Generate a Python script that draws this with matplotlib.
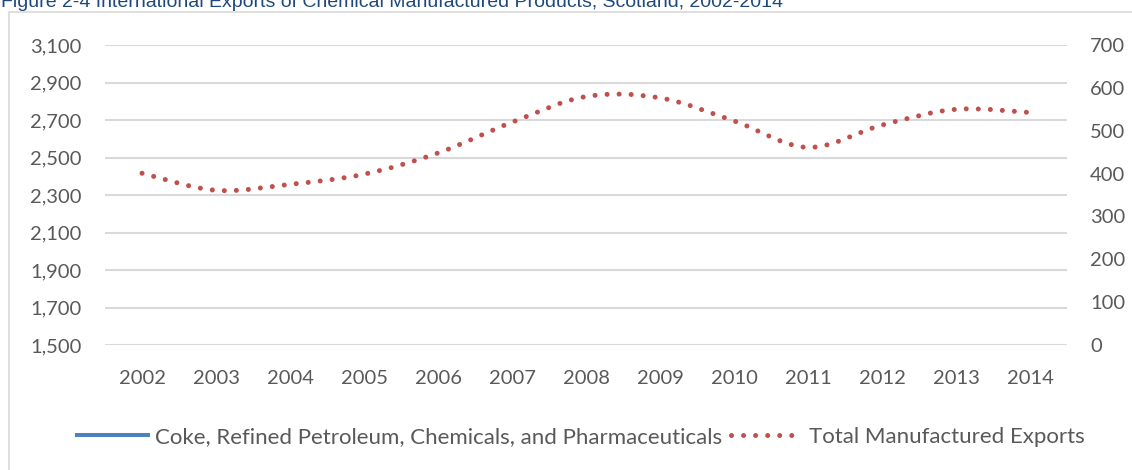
import matplotlib
matplotlib.use('Agg')
import matplotlib.pyplot as plt
from matplotlib.path import Path
from matplotlib.patches import PathPatch, Rectangle
from matplotlib.lines import Line2D
from matplotlib.ticker import FuncFormatter

years = ['2002', '2003', '2004', '2005', '2006', '2007', '2008',
         '2009', '2010', '2011', '2012', '2013', '2014']
total_exports = [2416, 2325, 2357, 2411, 2524, 2688, 2825,
                 2818, 2695, 2554, 2673, 2757, 2740]
# the coke/chemicals series is not drawn in the reference, only its legend key
coke_exports = []

left_ticks = [1500, 1700, 1900, 2100, 2300, 2500, 2700, 2900, 3100]
right_ticks = [0, 100, 200, 300, 400, 500, 600, 700]

red = '#C0504D'
blue = '#4F81BD'
grey_txt = '#595959'
grid_col = '#D9D9D9'

plt.rcParams['font.family'] = ['Lato', 'DejaVu Sans']

fig = plt.figure(figsize=(11.32, 4.70), dpi=100)
ax = fig.add_axes([105/1132, 1-345/470, (1067-105)/1132, 300/470])
ax2 = ax.twinx()

# smoothed line like excel: cubic bezier through the yearly points
xs = list(range(len(years)))
pts = list(zip(xs, total_exports))
verts = [pts[0]]
codes = [Path.MOVETO]
for i in range(len(pts)-1):
    p0 = pts[max(i-1, 0)]
    p1 = pts[i]
    p2 = pts[i+1]
    p3 = pts[min(i+2, len(pts)-1)]
    c1 = (p1[0] + (p2[0]-p0[0])/6, p1[1] + (p2[1]-p0[1])/6)
    c2 = (p2[0] - (p3[0]-p1[0])/6, p2[1] - (p3[1]-p1[1])/6)
    verts += [c1, c2, p2]
    codes += [Path.CURVE4]*3
dots = (0, (0.01, 2.4))
patch = PathPatch(Path(verts, codes), facecolor='none', edgecolor=red,
                  lw=3.6, linestyle=dots, capstyle='round', zorder=3)
ax.add_patch(patch)

ax2.plot(range(len(coke_exports)), coke_exports, color=blue, lw=2.9)

ax.set_xlim(-0.5, len(years)-0.5)
ax.set_ylim(1500, 3100)
ax.set_yticks(left_ticks)
ax.yaxis.set_major_formatter(FuncFormatter(lambda v, p: f'{int(v):,}'))
ax.set_xticks(xs)
ax.set_xticklabels(years)
ax2.set_ylim(0, 700)
ax2.set_yticks(right_ticks)

ax.grid(axis='y', color=grid_col, lw=1.5)
ax.set_axisbelow(True)
for a in (ax, ax2):
    for s in a.spines.values():
        s.set_visible(False)
ax.tick_params(axis='y', length=0, pad=17, labelsize=14.5, labelcolor=grey_txt)
ax.tick_params(axis='x', length=0, pad=18, labelsize=14.5, labelcolor=grey_txt)
ax2.tick_params(axis='y', length=0, pad=16.5, labelsize=14.5, labelcolor=grey_txt)

handles = [Line2D([], [], color=blue, lw=2.9),
           Line2D([], [], color=red, lw=3.6, linestyle=dots, dash_capstyle='round')]
labels = ['Coke, Refined Petroleum, Chemicals, and Pharmaceuticals',
          'Total Manufactured Exports']
fig.legend(handles, labels, loc='center', bbox_to_anchor=(0.513, 1-437/470),
           ncol=2, frameon=False, fontsize=16, handlelength=3.2,
           handletextpad=0.3, columnspacing=0.4, labelcolor=grey_txt)

# outer chart border
fig.patches.append(Rectangle((9/1132, -0.05), 1.2, 1-12/470+0.05,
                             transform=fig.transFigure, fill=False,
                             edgecolor=grid_col, lw=1.2))
fig.text(1/1132, 1-7/470, 'Figure 2-4 International Exports of Chemical Manufactured Products, Scotland, 2002-2014',
         family='Liberation Sans', fontsize=14, color='#1F497D', va='baseline', ha='left')

fig.savefig('out.png', dpi=100)
